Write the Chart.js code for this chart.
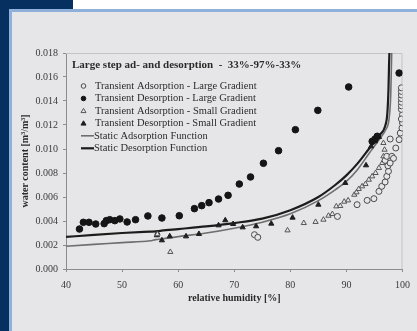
<!DOCTYPE html>
<html>
<head>
<meta charset="utf-8">
<script src="https://cdn.jsdelivr.net/npm/chart.js@4"></script>
<style>
  body { margin: 0; width: 417px; height: 331px; overflow: hidden; position: relative; background: #e6e6e8; }
  .navy-left { position: absolute; left: 0; top: 0; width: 9px; height: 331px; background: #06305f; }
  .navy-top { position: absolute; left: 0; top: 0; width: 73px; height: 9px; background: #06305f; }
  .white-top { position: absolute; left: 73px; top: 0; width: 344px; height: 9px; background: #ffffff; }
  .blue-left { position: absolute; left: 9px; top: 9px; width: 3px; height: 322px; background: #8eb0da; }
  .blue-top { position: absolute; left: 9px; top: 9px; width: 408px; height: 3px; background: #8eb0da; }
  canvas { position: absolute; left: 0; top: 0; }
</style>
</head>
<body>
<div class="navy-left"></div>
<div class="navy-top"></div>
<div class="white-top"></div>
<div class="blue-left"></div>
<div class="blue-top"></div>
<canvas id="rhChart" width="417" height="331"></canvas>
<script>
var adsLargeX = [73.6, 74.2, 88.4, 91.9, 93.7, 94.9, 95.8, 96.3, 96.9, 97.2, 97.5, 97.4, 96.9, 97.2, 97.8, 98.1, 98.4, 98.8, 97.8, 99.4, 99.6, 99.9, 100, 100, 99.8, 99.8, 99.8, 99.8, 99.8, 99.8, 99.8, 99.8];
var adsLargeY = [0.00286, 0.00264, 0.00438, 0.00536, 0.00572, 0.00586, 0.00647, 0.00689, 0.00725, 0.00772, 0.00814, 0.0086, 0.00905, 0.00939, 0.00883, 0.00939, 0.00922, 0.01008, 0.01083, 0.01078, 0.01133, 0.01175, 0.01217, 0.01286, 0.0133, 0.0136, 0.0139, 0.0142, 0.0145, 0.0148, 0.0151, 0.0125];

var desLargeX = [42.4, 43.1, 44.1, 45.3, 46.8, 47.2, 47.8, 48.7, 49.6, 50.9, 52.4, 54.6, 57.1, 60.2, 62.9, 64.2, 65.5, 67.2, 68.9, 70.9, 72.9, 75.2, 77.9, 80.9, 84.9, 90.4, 94.6, 95.1, 95.5, 99.4];
var desLargeY = [0.00333, 0.00389, 0.00389, 0.00375, 0.00378, 0.00403, 0.00411, 0.00403, 0.00417, 0.00392, 0.00411, 0.00442, 0.00425, 0.00444, 0.00503, 0.00528, 0.00553, 0.00583, 0.00614, 0.00708, 0.00767, 0.00881, 0.00986, 0.01161, 0.01322, 0.01517, 0.01064, 0.01083, 0.01106, 0.01633];

var adsSmallX = [56.3, 58.6, 79.5, 82.4, 84.5, 85.9, 86.8, 87.5, 88.2, 88.9, 89.6, 90.3, 91.4, 91.8, 92.2, 92.8, 93.4, 94.0, 94.6, 95.2, 95.8, 96.4, 96.6, 96.8, 96.6];
var adsSmallY = [0.0029, 0.00142, 0.00322, 0.00383, 0.00392, 0.00411, 0.00444, 0.00458, 0.00522, 0.00525, 0.00561, 0.00572, 0.00619, 0.00639, 0.00667, 0.00689, 0.00708, 0.00744, 0.00772, 0.008, 0.00842, 0.00883, 0.00939, 0.00994, 0.0105];

var desSmallX = [56.2, 56.3, 57.1, 58.5, 61.4, 63.7, 67.2, 68.4, 69.8, 71.5, 73.9, 76.6, 80.4, 85.0, 89.8, 93.5, 94.4, 95.1, 95.8];
var desSmallY = [0.00281, 0.003, 0.00239, 0.00272, 0.00272, 0.00292, 0.00364, 0.00406, 0.00375, 0.00347, 0.00356, 0.00378, 0.00428, 0.00536, 0.00717, 0.00864, 0.01022, 0.01064, 0.011];

// static sorption functions
var staticAdsX = [40, 45, 50, 55, 56, 57, 60, 65, 70, 75, 80, 85, 88, 90, 92, 94, 96, 97, 97.6, 97.9, 98.0, 98.1];
var staticAdsY = [0.0019, 0.00205, 0.0022, 0.00235, 0.00245, 0.0025, 0.0027, 0.003, 0.0034, 0.0039, 0.0046, 0.0057, 0.0066, 0.0073, 0.0083, 0.0096, 0.0109, 0.0116, 0.0125, 0.0145, 0.0165, 0.0185];
var staticDesX = [40, 45, 50, 55, 56, 57, 60, 65, 70, 75, 80, 85, 88, 90, 92, 94, 95, 96, 96.9, 97.3, 97.5, 97.6, 97.7];
var staticDesY = [0.00267, 0.00285, 0.003, 0.00311, 0.00313, 0.0032, 0.00333, 0.00355, 0.00383, 0.0042, 0.0049, 0.006, 0.007, 0.0078, 0.0088, 0.01, 0.0106, 0.0112, 0.0119, 0.013, 0.015, 0.017, 0.0185];

var xTicks = [40, 50, 60, 70, 80, 90, 100];
var legendTitle = 'Large step ad- and desorption  -  33%-97%-33%';

var serif = '"Liberation Serif", "DejaVu Serif", serif';
var panel = '#e6e6e8';

function pts(xs, ys) {
  return xs.map(function(x, i) { return {x: x, y: ys[i]}; });
}

// light box round the plot area
var boxPlugin = {
  id: 'box',
  beforeDatasetsDraw: function(chart) {
    var a = chart.chartArea, ctx = chart.ctx;
    ctx.save();
    ctx.strokeStyle = '#c4c4c4';
    ctx.lineWidth = 1;
    ctx.beginPath();
    ctx.moveTo(a.left, a.top + 0.5);
    ctx.lineTo(a.right - 0.5, a.top + 0.5);
    ctx.lineTo(a.right - 0.5, a.bottom);
    ctx.stroke();
    ctx.restore();
  }
};

// legend drawn inside the plot, like the original
var legendPlugin = {
  id: 'innerLegend',
  afterDraw: function(chart) {
    var ctx = chart.ctx;
    ctx.save();
    ctx.fillStyle = '#2b2b2b';
    ctx.textBaseline = 'middle';
    ctx.font = 'bold 11px ' + serif;
    ctx.fillText(legendTitle, 72, 65);
    ctx.font = '10.5px ' + serif;
    var rows = [86, 98.5, 110.8, 123.3, 135.8, 148.3];
    chart.data.datasets.forEach(function(ds, i) {
      var y = rows[i];
      ctx.strokeStyle = ds.borderColor;
      ctx.fillStyle = ds.backgroundColor;
      if (ds.showLine) {
        ctx.lineWidth = ds.borderWidth;
        ctx.beginPath();
        ctx.moveTo(81, y);
        ctx.lineTo(94, y);
        ctx.stroke();
      } else {
        ctx.lineWidth = 1;
        ctx.beginPath();
        if (ds.pointStyle === 'triangle') {
          ctx.moveTo(83.5, y - 2.5);
          ctx.lineTo(86, y + 1.8);
          ctx.lineTo(81, y + 1.8);
          ctx.closePath();
        } else {
          ctx.arc(83.5, y, 2.3, 0, Math.PI * 2);
        }
        ctx.fill();
        ctx.stroke();
      }
      ctx.fillStyle = '#2b2b2b';
      ctx.fillText(ds.label, ds.showLine ? 94 : 95, y);
    });
    ctx.restore();
  }
};

var ctx = document.getElementById('rhChart').getContext('2d');
var rhChart = new Chart(ctx, {
  type: 'scatter',
  data: {
    datasets: [{
      label: 'Transient Adsorption - Large Gradient',
      data: pts(adsLargeX, adsLargeY),
      pointStyle: 'circle',
      pointRadius: 3,
      borderWidth: 1,
      borderColor: '#4a4a4a',
      backgroundColor: panel
    }, {
      label: 'Transient Desorption - Large Gradient',
      data: pts(desLargeX, desLargeY),
      pointStyle: 'circle',
      pointRadius: 3.3,
      borderWidth: 1,
      borderColor: '#151515',
      backgroundColor: '#151515'
    }, {
      label: 'Transient Adsorption - Small Gradient',
      data: pts(adsSmallX, adsSmallY),
      pointStyle: 'triangle',
      pointRadius: 3,
      borderWidth: 1,
      borderColor: '#555555',
      backgroundColor: panel
    }, {
      label: 'Transient Desorption - Small Gradient',
      data: pts(desSmallX, desSmallY),
      pointStyle: 'triangle',
      pointRadius: 3,
      borderWidth: 1,
      borderColor: '#1e1e1e',
      backgroundColor: '#1e1e1e'
    }, {
      label: 'Static Adsorption Function',
      data: pts(staticAdsX, staticAdsY),
      showLine: true,
      pointRadius: 0,
      borderWidth: 1.6,
      borderColor: '#6e6e6e',
      backgroundColor: '#6e6e6e',
      cubicInterpolationMode: 'monotone'
    }, {
      label: 'Static Desorption Function',
      data: pts(staticDesX, staticDesY),
      showLine: true,
      pointRadius: 0,
      borderWidth: 2.2,
      borderColor: '#1c1c1c',
      backgroundColor: '#1c1c1c',
      cubicInterpolationMode: 'monotone'
    }]
  },
  options: {
    responsive: false,
    animation: false,
    devicePixelRatio: 1,
    layout: { padding: { top: 53, right: 11, left: 0, bottom: 0 } },
    plugins: {
      legend: { display: false },
      tooltip: { enabled: false }
    },
    scales: {
      x: {
        type: 'linear',
        min: 40,
        max: 100,
        afterBuildTicks: function(scale) {
          scale.ticks = xTicks.map(function(v) { return {value: v}; });
        },
        afterFit: function(scale) { scale.height = 62; },
        ticks: { color: '#3a3a3a', padding: 7, font: { family: serif, size: 10 } },
        grid: { drawOnChartArea: false, drawTicks: true, tickLength: 3, color: '#8c8c8c' },
        border: { color: '#8c8c8c' },
        title: {
          display: true,
          text: 'relative humidity [%]',
          color: '#2b2b2b',
          font: { family: serif, size: 10, weight: 'bold' },
          padding: { top: 0, bottom: 27 }
        }
      },
      y: {
        min: 0,
        max: 0.018,
        afterFit: function(scale) { scale.width = 66; },
        ticks: {
          stepSize: 0.002,
          color: '#3a3a3a',
          padding: 5,
          font: { family: serif, size: 10 },
          callback: function(v) { return v.toFixed(3); }
        },
        grid: { drawOnChartArea: false, drawTicks: true, tickLength: 3, color: '#8c8c8c' },
        border: { color: '#8c8c8c' },
        title: {
          display: true,
          text: 'water content [m³/m³]',
          color: '#2b2b2b',
          font: { family: serif, size: 10, weight: 'bold' },
          padding: { top: 19, bottom: 0 }
        }
      }
    }
  },
  plugins: [boxPlugin, legendPlugin]
});
</script>
</body>
</html>
